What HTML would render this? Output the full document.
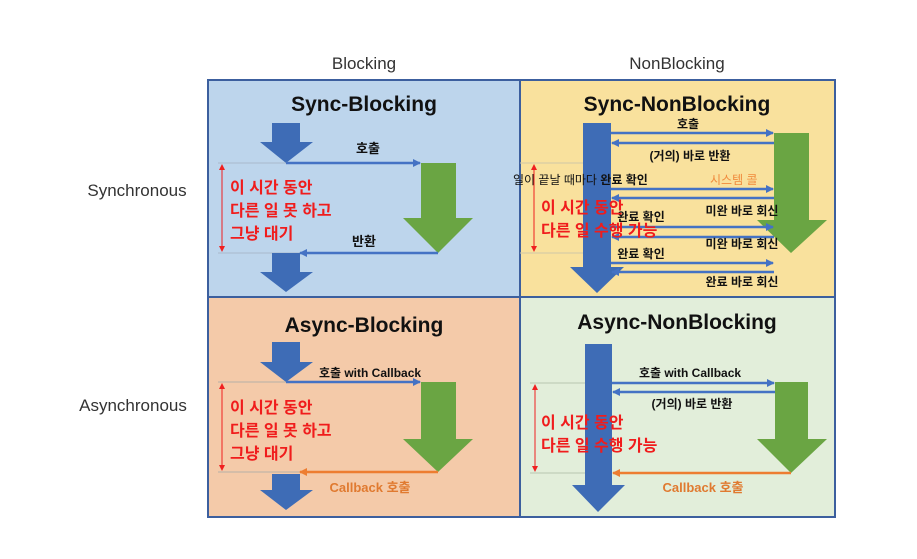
<!DOCTYPE html>
<html><head><meta charset="utf-8"><style>
html,body{margin:0;padding:0;background:#fff}
svg{display:block}
text{font-family:"Liberation Sans","Noto Sans CJK KR",sans-serif}
.t{font-size:21px;font-weight:bold;fill:#111}
.h{font-size:17px;fill:#333}
.b{font-size:12px;font-weight:bold;fill:#111}
.r{font-size:16px;font-weight:bold;fill:#f01c1c}
.o{font-size:13px;font-weight:bold;fill:#e07a30}
</style></head><body>
<svg width="917" height="559" viewBox="0 0 917 559" xmlns="http://www.w3.org/2000/svg">
<defs>
<marker id="ab" markerWidth="8" markerHeight="8" refX="7" refY="4" orient="auto" markerUnits="userSpaceOnUse"><path d="M0,0 L8,4 L0,8 z" fill="#4472c4"/></marker>
<marker id="ao" markerWidth="8" markerHeight="8" refX="7" refY="4" orient="auto" markerUnits="userSpaceOnUse"><path d="M0,0 L8,4 L0,8 z" fill="#ed7d31"/></marker>
</defs>
<text class="h" x="364" y="69" text-anchor="middle">Blocking</text>
<text class="h" x="677" y="69" text-anchor="middle">NonBlocking</text>
<text class="h" x="137" y="196" text-anchor="middle">Synchronous</text>
<text class="h" x="133" y="411" text-anchor="middle">Asynchronous</text>

<rect x="208" y="80" width="312" height="217" fill="#bdd5ec"/>
<rect x="520" y="80" width="315" height="217" fill="#f9e19d"/>
<rect x="208" y="297" width="312" height="220" fill="#f4caa9"/>
<rect x="520" y="297" width="315" height="220" fill="#e2eeda"/>
<rect x="208" y="80" width="627" height="437" fill="none" stroke="#3c5f9e" stroke-width="2"/>
<line x1="520" y1="80" x2="520" y2="517" stroke="#3c5f9e" stroke-width="2"/>
<line x1="208" y1="297" x2="835" y2="297" stroke="#3c5f9e" stroke-width="2"/>

<!-- Q1 -->
<text class="t" x="364" y="111" text-anchor="middle">Sync-Blocking</text>
<polygon points="272,123 300,123 300,142 313,142 286,163 260,142 272,142" fill="#3e6cb6"/>
<line x1="218" y1="163" x2="286" y2="163" stroke="#a9b9cc" stroke-width="1"/>
<line x1="218" y1="253" x2="300" y2="253" stroke="#a9b9cc" stroke-width="1"/>
<line x1="286" y1="163" x2="420" y2="163" stroke="#4472c4" stroke-width="2.5" marker-end="url(#ab)"/>
<polygon points="421,163 456,163 456,218 473,218 438,253 403,218 421,218" fill="#6aa543"/>
<line x1="438" y1="253" x2="300" y2="253" stroke="#4472c4" stroke-width="2.5" marker-end="url(#ab)"/>
<polygon points="272,253 300,253 300,272 313,272 286,292 260,272 272,272" fill="#3e6cb6"/>
<g fill="#f02020"><line x1="222" y1="168" x2="222" y2="248" stroke="#f02020" stroke-width="1"/><polygon points="219,170 225,170 222,164"/><polygon points="219,246 225,246 222,252"/></g>
<text class="b" x="368" y="153" text-anchor="middle" style="font-size:13px">호출</text>
<text class="b" x="364" y="246" text-anchor="middle" style="font-size:13px">반환</text>
<text class="r" x="230" y="193">이 시간 동안</text>
<text class="r" x="230" y="216">다른 일 못 하고</text>
<text class="r" x="230" y="239">그냥 대기</text>

<!-- Q2 -->
<text class="t" x="677" y="111" text-anchor="middle">Sync-NonBlocking</text>
<polygon points="583,123 611,123 611,267 624,267 597,293 570,267 583,267" fill="#3e6cb6"/>
<polygon points="774,133 809,133 809,220 827,220 791,253 757,220 774,220" fill="#6aa543"/>
<line x1="520" y1="163" x2="583" y2="163" stroke="#cfc7a8" stroke-width="1"/>
<line x1="520" y1="253" x2="583" y2="253" stroke="#cfc7a8" stroke-width="1"/>
<g fill="#f02020"><line x1="534" y1="168" x2="534" y2="248" stroke="#f02020" stroke-width="1"/><polygon points="531,170 537,170 534,164"/><polygon points="531,246 537,246 534,252"/></g>
<g stroke="#4472c4" stroke-width="2.5">
<line x1="611" y1="133" x2="773" y2="133" marker-end="url(#ab)"/>
<line x1="774" y1="143" x2="612" y2="143" marker-end="url(#ab)"/>
<line x1="611" y1="189" x2="773" y2="189" marker-end="url(#ab)"/>
<line x1="774" y1="198" x2="612" y2="198" marker-end="url(#ab)"/>
<line x1="611" y1="227" x2="773" y2="227" marker-end="url(#ab)"/>
<line x1="774" y1="237" x2="612" y2="237" marker-end="url(#ab)"/>
<line x1="611" y1="263" x2="773" y2="263" marker-end="url(#ab)"/>
<line x1="774" y1="272" x2="612" y2="272" marker-end="url(#ab)"/>
</g>
<text class="b" x="688" y="128" text-anchor="middle">호출</text>
<text class="b" x="690" y="160" text-anchor="middle">(거의) 바로 반환</text>
<text x="513" y="184" style="font-size:12px;fill:#111">일이 끝날 때마다 <tspan font-weight="bold">완료 확인</tspan></text>
<text x="710" y="184" style="font-size:12px;fill:#f08a3c">시스템 콜</text>
<text class="b" x="742" y="215" text-anchor="middle">미완 바로 회신</text>
<text class="b" x="641" y="221" text-anchor="middle">완료 확인</text>
<text class="r" x="541" y="213">이 시간 동안</text>
<text class="r" x="541" y="236">다른 일 수행 가능</text>
<text class="b" x="742" y="248" text-anchor="middle">미완 바로 회신</text>
<text class="b" x="641" y="258" text-anchor="middle">완료 확인</text>
<text class="b" x="742" y="286" text-anchor="middle">완료 바로 회신</text>

<!-- Q3 -->
<text class="t" x="364" y="332" text-anchor="middle">Async-Blocking</text>
<polygon points="272,342 300,342 300,362 313,362 286,382 260,362 272,362" fill="#3e6cb6"/>
<line x1="218" y1="382" x2="286" y2="382" stroke="#b6b0a8" stroke-width="1"/>
<line x1="218" y1="472" x2="300" y2="472" stroke="#b6b0a8" stroke-width="1"/>
<line x1="286" y1="382" x2="420" y2="382" stroke="#4472c4" stroke-width="2.5" marker-end="url(#ab)"/>
<polygon points="421,382 456,382 456,439 473,439 438,472 403,439 421,439" fill="#6aa543"/>
<line x1="438" y1="472" x2="300" y2="472" stroke="#ed7d31" stroke-width="2.5" marker-end="url(#ao)"/>
<polygon points="272,474 300,474 300,490 313,490 286,510 260,490 272,490" fill="#3e6cb6"/>
<g fill="#f02020"><line x1="222" y1="387" x2="222" y2="467" stroke="#f02020" stroke-width="1"/><polygon points="219,389 225,389 222,383"/><polygon points="219,465 225,465 222,471"/></g>
<text class="b" x="370" y="377" text-anchor="middle">호출 with Callback</text>
<text class="o" x="370" y="492" text-anchor="middle">Callback 호출</text>
<text class="r" x="230" y="413">이 시간 동안</text>
<text class="r" x="230" y="436">다른 일 못 하고</text>
<text class="r" x="230" y="459">그냥 대기</text>

<!-- Q4 -->
<text class="t" x="677" y="329" text-anchor="middle">Async-NonBlocking</text>
<polygon points="585,344 612,344 612,485 625,485 598,512 572,485 585,485" fill="#3e6cb6"/>
<polygon points="775,382 808,382 808,439 827,439 791,473 757,439 775,439" fill="#6aa543"/>
<line x1="530" y1="383" x2="585" y2="383" stroke="#b8c6b0" stroke-width="1"/>
<line x1="530" y1="473" x2="585" y2="473" stroke="#b8c6b0" stroke-width="1"/>
<g fill="#f02020"><line x1="535" y1="388" x2="535" y2="468" stroke="#f02020" stroke-width="1"/><polygon points="532,390 538,390 535,384"/><polygon points="532,466 538,466 535,472"/></g>
<line x1="612" y1="383" x2="774" y2="383" stroke="#4472c4" stroke-width="2.5" marker-end="url(#ab)"/>
<line x1="775" y1="392" x2="613" y2="392" stroke="#4472c4" stroke-width="2.5" marker-end="url(#ab)"/>
<line x1="791" y1="473" x2="613" y2="473" stroke="#ed7d31" stroke-width="2.5" marker-end="url(#ao)"/>
<text class="b" x="690" y="377" text-anchor="middle">호출 with Callback</text>
<text class="b" x="692" y="408" text-anchor="middle">(거의) 바로 반환</text>
<text class="o" x="703" y="492" text-anchor="middle">Callback 호출</text>
<text class="r" x="541" y="428">이 시간 동안</text>
<text class="r" x="541" y="451">다른 일 수행 가능</text>
</svg>
</body></html>
